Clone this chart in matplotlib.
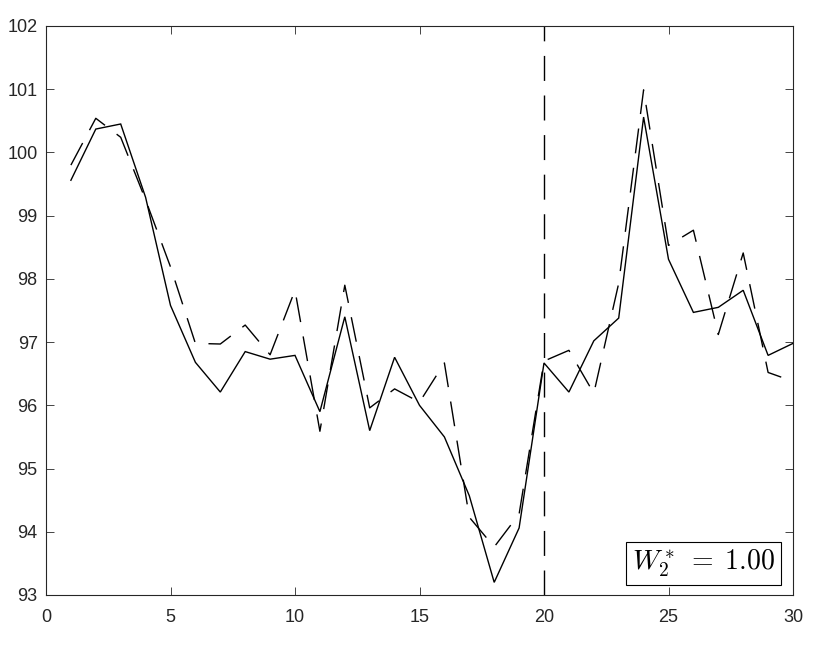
import matplotlib
matplotlib.use("Agg")
import matplotlib.pyplot as plt
import numpy as np

x = list(range(1, 31))
solid = [99.56, 100.37, 100.45, 99.29, 97.58, 96.68, 96.21, 96.85, 96.73, 96.79,
         95.90, 97.40, 95.60, 96.76, 96.00, 95.50, 94.57, 93.20, 94.06, 96.67,
         96.21, 97.02, 97.38, 100.56, 98.31, 97.47, 97.55, 97.82, 96.79, 96.98]
dashed = [99.80, 100.54, 100.24, 99.25, 98.19, 96.98, 96.97, 97.27, 96.80, 97.82,
          95.59, 97.90, 95.96, 96.26, 96.05, 96.67, 94.23, 93.76, 94.28, 96.70,
          96.87, 96.19, 97.93, 100.99, 98.53, 98.77, 97.12, 98.41, 96.52, 96.38]
vline_x = 20
xticks = [0, 5, 10, 15, 20, 25, 30]
yticks = list(range(93, 103))
label = r"$W_2^* \;=\; 1.00$"

plt.rcParams['font.family'] = ['Liberation Sans', 'DejaVu Sans']
plt.rcParams['mathtext.fontset'] = 'cm'

fig = plt.figure(figsize=(8.30, 6.48), dpi=100)
ax = fig.add_axes([46/830, 1-595/648, (793-46)/830, (595-26)/648])

axc = '#262626'
lw = 1.0
ax.plot(x, solid, color='black', lw=lw, solid_joinstyle='miter')
ax.plot(x, dashed, color='black', lw=lw, dashes=(18, 10.5))
ax.axvline(vline_x, color='black', lw=lw, dashes=(18, 10.5))

ax.set_xlim(0, 30)
ax.set_ylim(93, 102)
ax.set_xticks(xticks)
ax.set_yticks(yticks)
ax.tick_params(direction='in', length=5.5, width=0.6, colors=axc, labelsize=13,
               top=True, right=True, labeltop=False, labelright=False, pad=6)
ax.tick_params(axis='x', pad=10)
for s in ax.spines.values():
    s.set_color(axc)
    s.set_linewidth(0.8)

ax.text(0.976, 0.028, label, transform=ax.transAxes, ha='right', va='bottom',
        fontsize=20, color='black',
        bbox=dict(boxstyle='square,pad=0.22', fc='white', ec='black', lw=0.8))

fig.savefig('out.png', dpi=100)
